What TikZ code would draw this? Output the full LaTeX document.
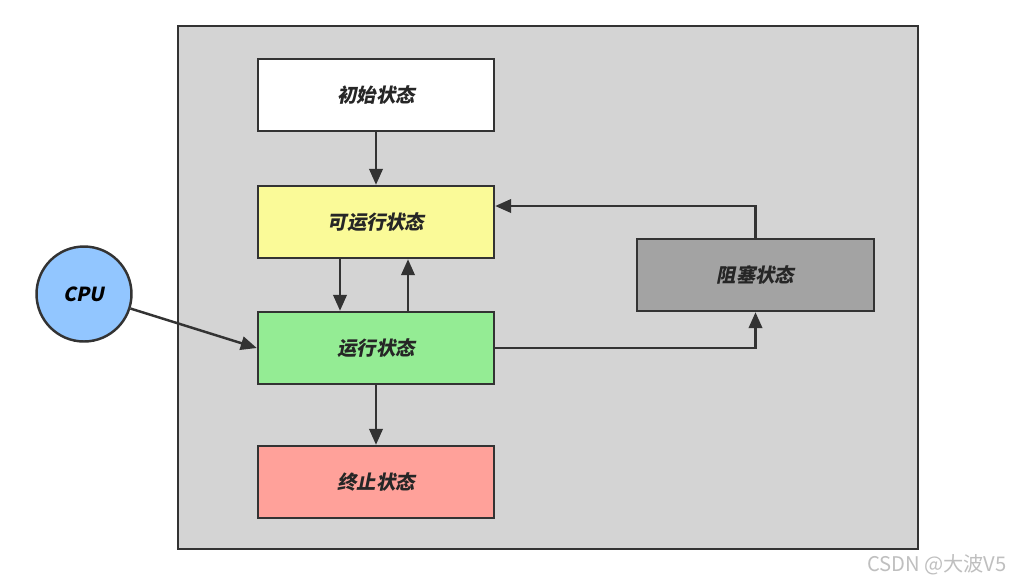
\documentclass[tikz,border=0pt]{standalone}
\usepackage{fontspec}
\usepackage{xcolor}
\usepackage{tikz}
\usetikzlibrary{arrows.meta,positioning}
\newfontfamily\cjk[FakeSlant=0.2]{Noto Sans CJK SC}
\newfontfamily\wmfont{Noto Sans CJK SC}
\definecolor{stframe}{HTML}{D4D4D4}
\definecolor{stline}{HTML}{333333}
\definecolor{stready}{HTML}{FAFA98}
\definecolor{strun}{HTML}{94EC94}
\definecolor{stdead}{HTML}{FFA19A}
\definecolor{stblock}{HTML}{A3A3A3}
\definecolor{stcpu}{HTML}{92C6FF}

\begin{document}
\begin{tikzpicture}[x=0.02cm,y=-0.02cm,font=\cjk\bfseries\fontsize{11}{13}\selectfont,
  state/.style={draw=stline,line width=1.4pt,minimum width=4.72cm,minimum height=1.44cm,align=center,text=black!85},
  arr/.style={-{Triangle[length=3.2mm,width=2.7mm]},line width=1.4pt,color=stline}]
  \useasboundingbox (0,0) rectangle (1017,583);
  \fill[white] (0,0) rectangle (1017,583);
  \filldraw[fill=stframe,draw=stline,line width=1.4pt] (178,26) rectangle (918,549);
  \node[state,fill=white] (init) at (376,95) {初始状态};
  \node[state,fill=stready] (ready) at (376,222) {可运行状态};
  \node[state,fill=strun] (run) at (376,348) {运行状态};
  \node[state,fill=stdead] (dead) at (376,482) {终止状态};
  \node[state,fill=stblock,minimum width=4.74cm] (block) at (755.5,275) {阻塞状态};
  \node[circle,draw=stline,line width=1.4pt,fill=stcpu,minimum size=1.9cm,inner sep=0pt] (cpu) at (84,294) {CPU};
  \draw[arr] (init) -- (ready);
  \draw[arr] (ready.south -| 340,0) -- (run.north -| 340,0);
  \draw[arr] (run.north -| 408,0) -- (ready.south -| 408,0);
  \draw[arr] (run) -- (dead);
  \draw[arr] (run.east) -| (block.south);
  \draw[arr] (block.north) |- (ready.east |- 0,206);
  \draw[arr] (cpu) -- (run.west);
  \node[font=\wmfont\fontsize{11.5}{13}\selectfont,text=black!25,anchor=east] (mark) at (1013,565) {CSDN @大波V5};
\end{tikzpicture}
\end{document}
